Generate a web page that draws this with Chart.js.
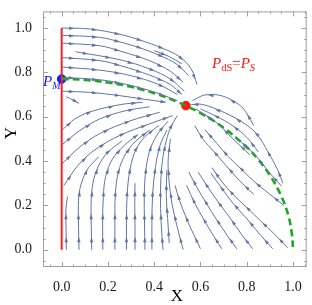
<!DOCTYPE html>
<html><head><meta charset="utf-8">
<script src="https://cdn.jsdelivr.net/npm/chart.js@4/dist/chart.umd.min.js"></script>
<style>html,body{margin:0;padding:0;background:#fff;}canvas{display:block;}</style>
</head><body>
<canvas id="c" width="312" height="305"></canvas>
<script>
// ---- tick values ----
const xTicks = [0, 0.2, 0.4, 0.6, 0.8, 1.0];
const yTicks = [0, 0.2, 0.4, 0.6, 0.8, 1.0];
const minorTicks = [-0.05, 0.05, 0.1, 0.15, 0.25, 0.3, 0.35, 0.45, 0.5, 0.55, 0.65, 0.7, 0.75, 0.85, 0.9, 0.95, 1.05];

// ---- streamlines (flow order) : upper region, flowing right / down to the red point ----
const streamsUpper = [
  [[0,1.0],[0.12,0.996],[0.256,0.971],[0.34,0.945],[0.433,0.91],[0.51,0.87],[0.56,0.815],[0.585,0.745]],
  [[0,0.967],[0.165,0.958],[0.256,0.936],[0.334,0.912],[0.42,0.878],[0.5,0.835],[0.548,0.785]],
  [[0,0.932],[0.165,0.92],[0.256,0.895],[0.381,0.852],[0.47,0.805],[0.525,0.755]],
  [[0.06,0.893],[0.256,0.856],[0.381,0.815],[0.47,0.77],[0.53,0.715]],
  [[0,0.867],[0.165,0.853],[0.256,0.83],[0.381,0.787],[0.47,0.745],[0.52,0.7]],
  [[0,0.824],[0.165,0.81],[0.3,0.785],[0.42,0.745],[0.5,0.7]],
  [[0.4,0.898],[0.463,0.872],[0.52,0.838]],
  [[0,0.778],[0.2,0.762],[0.38,0.718],[0.5,0.672]]
];
// ---- right of the red point, flowing up-left ----
const streamsRight = [
  [[0.951,0.286],[0.9,0.345],[0.835,0.429],[0.791,0.472],[0.75,0.51]],
  [[0.956,0.3],[0.934,0.36],[0.891,0.442],[0.848,0.516],[0.796,0.565],[0.709,0.616],[0.61,0.655],[0.56,0.655]],
  [[0.83,0.56],[0.8,0.615],[0.77,0.652],[0.696,0.693],[0.619,0.698],[0.565,0.672]],
  [[0.85,0.44],[0.804,0.503],[0.74,0.559],[0.666,0.603],[0.6,0.635]],
  [[0.813,0.429],[0.74,0.5],[0.671,0.572],[0.58,0.635]]
];
// ---- lower right, flowing up-left ----
const streamsDiag = [
  [[0.977,0.009],[0.92,0.07],[0.86,0.13],[0.8,0.19],[0.74,0.25],[0.69,0.31],[0.65,0.37]],
  [[0.912,0.004],[0.86,0.065],[0.8,0.14],[0.74,0.21],[0.69,0.28],[0.645,0.345]],
  [[0.826,0.004],[0.78,0.065],[0.73,0.14],[0.68,0.21],[0.63,0.285],[0.59,0.35]],
  [[0.757,0.004],[0.715,0.065],[0.67,0.135],[0.625,0.21],[0.585,0.28],[0.55,0.35]],
  [[0.692,0.004],[0.655,0.065],[0.615,0.135],[0.575,0.21],[0.54,0.29]],
  [[0.6,0.004],[0.57,0.07],[0.54,0.14],[0.51,0.22],[0.49,0.29]],
  [[0.525,0.0],[0.5,0.1],[0.478,0.2],[0.465,0.3],[0.46,0.4],[0.47,0.5]],
  [[0.96,0.2],[0.9,0.25],[0.84,0.3],[0.78,0.36],[0.72,0.42],[0.67,0.48],[0.62,0.54]],
  [[0.83,0.25],[0.77,0.31],[0.71,0.38],[0.66,0.44],[0.61,0.5],[0.575,0.56]]
];
// ---- lower left, flowing up and to the right ----
const streamsLeft = [
  [[0,0.715],[0.12,0.71],[0.25,0.695],[0.35,0.68],[0.45,0.665]],
  [[0.02,0.69],[0.05,0.675],[0.075,0.66]],
  [[0,0.538],[0.057,0.59],[0.13,0.624],[0.256,0.655],[0.35,0.665]],
  [[0,0.472],[0.079,0.538],[0.165,0.59],[0.273,0.626],[0.38,0.645]],
  [[0,0.386],[0.079,0.464],[0.165,0.524],[0.295,0.581],[0.424,0.62]],
  [[0.01,0.29],[0.07,0.38],[0.144,0.451],[0.252,0.516],[0.381,0.568],[0.48,0.605]]
];
// ---- bottom, flowing upward ----
const streamsBottom = [
  [[0.02,0],[0.019,0.1],[0.018,0.18],[0.025,0.24]],
  [[0.075,0],[0.073,0.1],[0.072,0.2],[0.08,0.28],[0.11,0.36],[0.16,0.42]],
  [[0.13,0],[0.128,0.1],[0.127,0.2],[0.135,0.3],[0.16,0.38],[0.2,0.44],[0.26,0.49]],
  [[0.178,0],[0.177,0.12],[0.18,0.24],[0.19,0.33],[0.22,0.41],[0.27,0.47],[0.33,0.52]],
  [[0.23,0],[0.23,0.12],[0.232,0.25],[0.245,0.35],[0.275,0.43],[0.32,0.49],[0.38,0.54]],
  [[0.28,0],[0.28,0.12],[0.283,0.25],[0.295,0.36],[0.32,0.45],[0.36,0.51],[0.42,0.56]],
  [[0.317,0],[0.317,0.1],[0.316,0.2],[0.317,0.3]],
  [[0.36,0],[0.358,0.12],[0.357,0.25],[0.365,0.37],[0.385,0.46],[0.42,0.53],[0.46,0.58]],
  [[0.39,0],[0.39,0.12],[0.393,0.25],[0.405,0.37],[0.425,0.47],[0.455,0.54]],
  [[0.438,0],[0.43,0.12],[0.427,0.25],[0.432,0.37],[0.447,0.47],[0.47,0.55],[0.5,0.605]],
  [[0.465,0.03],[0.458,0.14],[0.452,0.25],[0.455,0.36]]
];
// ---- green dashed curve, red boundary, special points ----
const greenCurve = [[0,0.77],[0.1,0.766],[0.2,0.754],[0.3,0.735],[0.4,0.706],[0.5,0.667],[0.6,0.616],[0.7,0.55],[0.8,0.462],[0.85,0.406],[0.9,0.336],[0.95,0.24],[0.98,0.153],[0.995,0.07],[1.0,0]];
const redLine = [[0,0],[0,1.0]];
const pointPM = [0, 0.77];
const pointPS = [0.537, 0.65];

const STREAM = '#5d76a4';
const toXY = a => a.map(p => ({x:p[0], y:p[1]}));
const allStreams = [].concat(streamsUpper, streamsRight, streamsDiag, streamsLeft, streamsBottom);

const datasets = [];
allStreams.forEach(s => datasets.push({type:'line', data:toXY(s), borderColor:STREAM, borderWidth:1, pointRadius:0, tension:0.35, fill:false, isStream:true}));
datasets.push({type:'line', data:toXY(greenCurve), borderColor:'#22a522', borderWidth:2.6, borderDash:[7,4], pointRadius:0, tension:0.4, fill:false});
datasets.push({type:'line', data:toXY(redLine), borderColor:'#ff1f1f', borderWidth:2, pointRadius:0, fill:false});
datasets.push({type:'scatter', data:[{x:pointPM[0],y:pointPM[1]}], backgroundColor:'#1414ff', borderColor:'#1414ff', pointRadius:4.3});
datasets.push({type:'scatter', data:[{x:pointPS[0],y:pointPS[1]}], backgroundColor:'#ff1414', borderColor:'#ff1414', pointRadius:4.3});

const arrowPlugin = {
  id:'arrows',
  afterDatasetsDraw(chart){
    const ctx = chart.ctx, xs = chart.scales.x, ys = chart.scales.y;
    ctx.save();
    ctx.fillStyle = STREAM;
    chart.data.datasets.forEach(ds => {
      if(!ds.isStream) return;
      const pts = ds.data.map(p => [xs.getPixelForValue(p.x), ys.getPixelForValue(p.y)]);
      let acc = 0, next = 10;
      for(let i=1;i<pts.length;i++){
        const dx = pts[i][0]-pts[i-1][0], dy = pts[i][1]-pts[i-1][1];
        const L = Math.hypot(dx,dy);
        while(next <= acc + L){
          const t = (next-acc)/L;
          const px = pts[i-1][0]+dx*t, py = pts[i-1][1]+dy*t;
          const ux = dx/L, uy = dy/L;
          ctx.beginPath();
          ctx.moveTo(px+ux*2.6, py+uy*2.6);
          ctx.lineTo(px-ux*2.6-uy*1.7, py-uy*2.6+ux*1.7);
          ctx.lineTo(px-ux*2.6+uy*1.7, py-uy*2.6-ux*1.7);
          ctx.closePath();
          ctx.fill();
          next += 23;
        }
        acc += L;
      }
    });
    ctx.restore();
  }
};

const framePlugin = {
  id:'frame',
  afterDraw(chart){
    const ctx = chart.ctx, xs = chart.scales.x, ys = chart.scales.y, a = chart.chartArea;
    ctx.save();
    ctx.strokeStyle = '#a0a0a0';
    ctx.lineWidth = 1;
    ctx.strokeRect(a.left+0.5, a.top+0.5, a.right-a.left-1, a.bottom-a.top-1);
    ctx.beginPath();
    const tick = (v, len) => {
      const px = Math.round(xs.getPixelForValue(v))+0.5;
      ctx.moveTo(px, a.bottom); ctx.lineTo(px, a.bottom-len);
      ctx.moveTo(px, a.top); ctx.lineTo(px, a.top+len);
      const py = Math.round(ys.getPixelForValue(v))+0.5;
      ctx.moveTo(a.left, py); ctx.lineTo(a.left+len, py);
      ctx.moveTo(a.right, py); ctx.lineTo(a.right-len, py);
    };
    xTicks.forEach(v => tick(v, 5));
    minorTicks.forEach(v => tick(v, 2.5));
    ctx.stroke();

    // axis titles
    ctx.fillStyle = '#000';
    ctx.font = '17px "Liberation Serif"';
    ctx.textAlign = 'center';
    ctx.textBaseline = 'alphabetic';
    ctx.fillText('X', 177, 301);
    ctx.save();
    ctx.translate(16, 133);
    ctx.rotate(-Math.PI/2);
    ctx.fillText('Y', 0, 0);
    ctx.restore();

    // labels
    ctx.textAlign = 'left';
    const run = (parts, x) => {
      parts.forEach(p => { ctx.font = p.f; ctx.fillStyle = p.c; ctx.fillText(p.t, x, p.y); x += ctx.measureText(p.t).width; });
    };
    run([
      {t:'P', f:'italic 15px "Liberation Serif"', c:'#1414ff', y:86},
      {t:'M', f:'italic 10px "Liberation Serif"', c:'#1414ff', y:89}
    ], 43);
    run([
      {t:'P', f:'italic 15px "Liberation Serif"', c:'#ff1414', y:68},
      {t:'dS', f:'10.5px "Liberation Serif"', c:'#ff1414', y:71},
      {t:'=', f:'15px "Liberation Serif"', c:'#ff1414', y:68},
      {t:'P', f:'italic 15px "Liberation Serif"', c:'#ff1414', y:68},
      {t:'S', f:'italic 10.5px "Liberation Serif"', c:'#ff1414', y:71}
    ], 212);
    ctx.restore();
  }
};

const tickFont = {family:'"Liberation Serif"', size:14};
new Chart(document.getElementById('c'), {
  data:{datasets},
  options:{
    responsive:false, animation:false, devicePixelRatio:1,
    layout:{padding:{left:0, right:5, top:1, bottom:0}},
    plugins:{legend:{display:false}, tooltip:{enabled:false}},
    scales:{
      x:{type:'linear', min:-0.0807, max:1.059,
         grid:{display:false}, border:{display:false},
         afterBuildTicks:s=>{s.ticks = xTicks.map(v=>({value:v}));},
         afterFit:s=>{s.height = 38;},
         ticks:{font:tickFont, color:'#1a1a1a', padding:4, maxRotation:0, callback:v=>Number(v).toFixed(1)}},
      y:{type:'linear', min:-0.078, max:1.075,
         grid:{display:false}, border:{display:false},
         afterBuildTicks:s=>{s.ticks = yTicks.map(v=>({value:v}));},
         afterFit:s=>{s.width = 43;},
         ticks:{font:tickFont, color:'#1a1a1a', padding:3, callback:v=>Number(v).toFixed(1)}}
    }
  },
  plugins:[arrowPlugin, framePlugin]
});
</script>
</body></html>
